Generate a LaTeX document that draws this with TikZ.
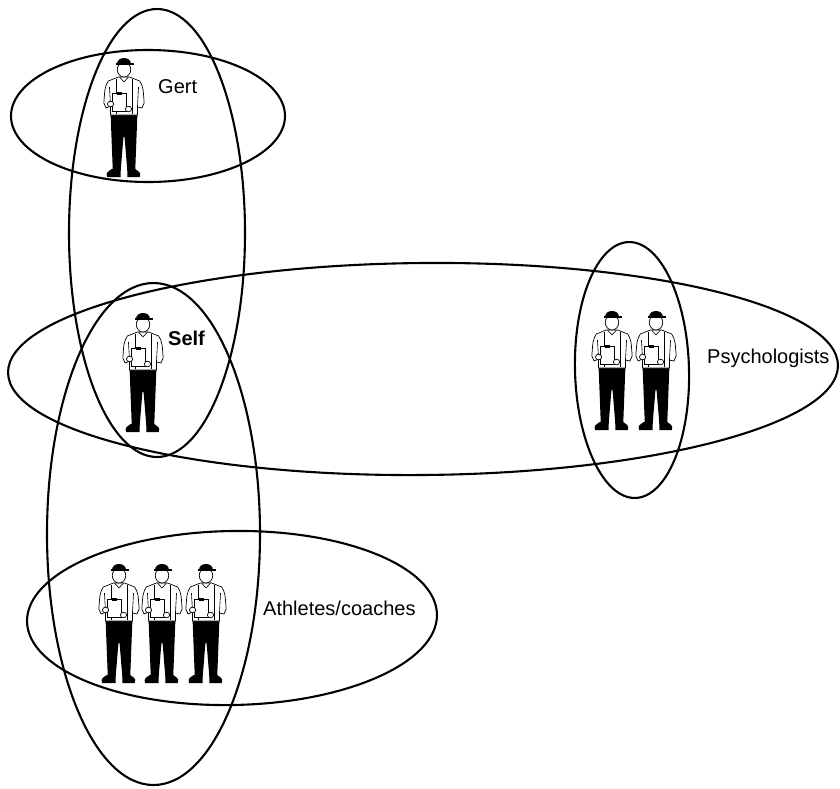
\documentclass[tikz,border=0pt]{standalone}
\usepackage{fontspec}
\setmainfont{Liberation Sans}
\begin{document}
\begin{tikzpicture}[x=1pt,y=-1pt,
  ring/.style={draw=black,line width=2.1pt},
  shirt/.style={fill=white,draw=black,line width=0.7pt},
  crease/.style={draw=black,line width=0.6pt},
  tag/.style={inner sep=0pt,font=\fontsize{20}{24}\selectfont},
  man/.style={xscale=1.12},
  person/.pic={
    % shoes
    \fill (-3,112) -- (-3,120) -- (-15,120) .. controls (-16,116) .. (-11,112) -- cycle;
    \fill (3,112) -- (3,120) -- (14,120) .. controls (15,116) .. (10,112) -- cycle;
    % trousers
    \fill (-12,56) -- (12,56) -- (10,114) -- (3,114) -- (0.5,80) -- (-0.5,80) -- (-3,114) -- (-10,114) -- cycle;
    % shirt and arms
    \filldraw[shirt] (-5,20) -- (-14,24) .. controls (-17,30) .. (-18,46) -- (-16,51) -- (-12,49)
      -- (-12,58) -- (12,58) -- (12,50) -- (16,51) -- (18,46) .. controls (17,30) .. (14,24) -- (5,20) -- cycle;
    \draw[crease] (-13,30) -- (-12,49) (13,30) -- (12,50);
    % suspenders and collar
    \draw[crease] (-7,22) -- (-7,57) (7,22) -- (7,57);
    \draw[crease] (-4,20) -- (0,25) -- (4,20);
    % clipboard and hands
    \filldraw[shirt] (-10,36) rectangle (2,54);
    \fill (-6,34.5) rectangle (-2,37.5);
    \filldraw[shirt] (-12,47) circle (2.8);
    \filldraw[shirt] (4,52) circle (2.8);
    % head and cap
    \filldraw[shirt] (0,12.5) ellipse (6 and 7.5);
    \fill (-6.5,7) .. controls (-6.5,-1) and (6.5,-1) .. (6.5,7) -- cycle;
    \fill (-7.5,6) rectangle (8.5,8);
  }]
\path[use as bounding box] (0,0) rectangle (840,788);

% sets
\draw[ring] (148,116) ellipse (137 and 66);
\draw[ring] (157,233) ellipse (88 and 224);
\draw[ring] (153.5,534) ellipse (106.5 and 251);
\draw[ring,rotate around={0.5:(423,369)}] (423,369) ellipse (415 and 106);
\draw[ring,rotate around={1.5:(632,370)}] (632,370) ellipse (57 and 128);
\draw[ring,rotate around={1:(232,618)}] (232,618) ellipse (205 and 87);

% people
\pic[man] at (124,57) {person};
\pic[man] at (143,312) {person};
\pic[man] at (612,310) {person};
\pic[man] at (656,310) {person};
\pic[man] at (119,563) {person};
\pic[man] at (162,563) {person};
\pic[man] at (206,563) {person};

% labels
\node[tag,anchor=base west] (gert) at (158,93) {Gert};
\node[tag,anchor=base west,font=\fontsize{20}{24}\selectfont\bfseries] (self) at (168,345) {Self};
\node[tag,anchor=base west] (psych) at (707,363) {Psychologists};
\node[tag,anchor=base west] (athl) at (263,615) {Athletes/coaches};
\end{tikzpicture}
\end{document}
